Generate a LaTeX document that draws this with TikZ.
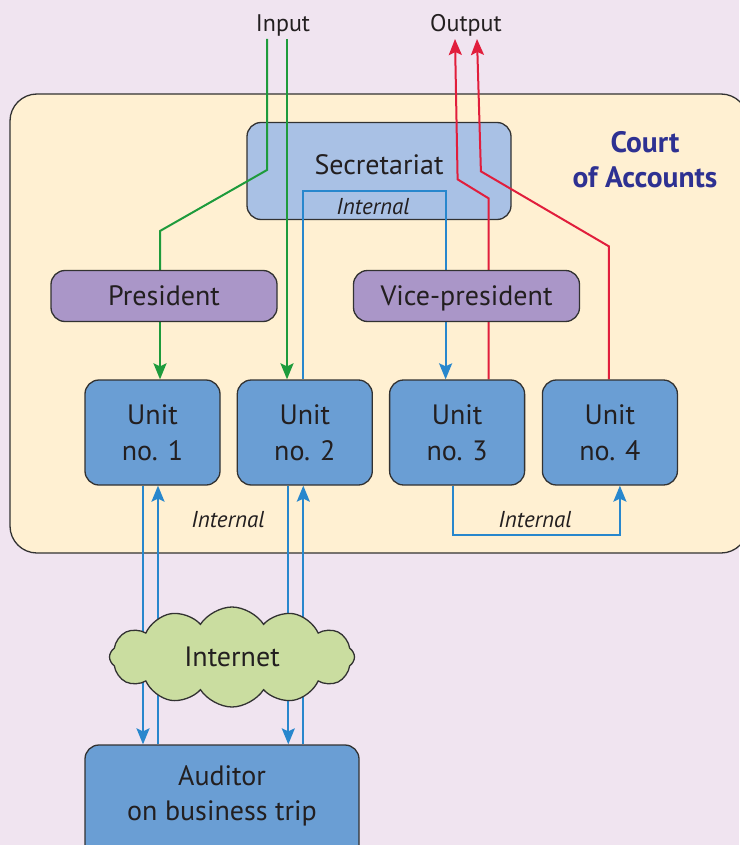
\documentclass[tikz,border=0pt]{standalone}
\usepackage{fontspec}
\setmainfont{PT Sans}
\usepackage{tikz}
\usepackage{xcolor}
\usetikzlibrary{positioning, arrows.meta, shapes.symbols}
\definecolor{cabg}{RGB}{240, 228, 240}
\definecolor{cacourt}{RGB}{255, 240, 210}
\definecolor{casec}{RGB}{169, 193, 229}
\definecolor{capres}{RGB}{170, 150, 200}
\definecolor{caunit}{RGB}{106, 158, 212}
\definecolor{canet}{RGB}{202, 221, 160}
\definecolor{cagreen}{RGB}{30, 155, 60}
\definecolor{cared}{RGB}{225, 30, 60}
\definecolor{cablue}{RGB}{40, 135, 205}
\definecolor{canavy}{RGB}{46, 49, 146}
\definecolor{caedge}{RGB}{50, 50, 50}
\definecolor{catext}{RGB}{35, 31, 32}
\pgfdeclarelayer{back}
\pgfdeclarelayer{wires}
\pgfsetlayers{back,wires,main}
\tikzset{
    box/.style={draw=caedge, line width=1.3pt, rounded corners=14pt, inner sep=0pt, text=catext, align=center, font=\fontsize{28}{36}\selectfont},
    secbox/.style={box, fill=casec, minimum width=264pt, minimum height=97pt},
    chiefbox/.style={box, fill=capres, minimum width=226pt, minimum height=51pt, text depth=0pt},
    unitbox/.style={box, fill=caunit, minimum width=135pt, minimum height=105pt},
    netcloud/.style={cloud, cloud puffs=12, cloud puff arc=115, aspect=2.5, draw=caedge, line width=1.3pt, fill=canet, minimum width=245pt, minimum height=100pt, inner sep=0pt, text=catext, font=\fontsize{28}{30}\selectfont},
    iolabel/.style={text=catext, inner sep=2pt, anchor=base, font=\fontsize{24}{28}\selectfont},
    inlabel/.style={text=catext, inner sep=0pt, font=\fontsize{23}{26}\selectfont\itshape},
    wire/.style={line width=2pt},
    greenwire/.style={wire, draw=cagreen},
    redwire/.style={wire, draw=cared},
    bluewire/.style={wire, draw=cablue},
    arr/.style={-{Stealth[length=16pt, width=13pt, inset=3pt]}}
}
\begin{document}
\begin{tikzpicture}[x=1pt, y=-1pt]
    \useasboundingbox (0,0) rectangle (739,845);

    \node[iolabel] (in) at (283,32) {Input};
    \node[iolabel] (out) at (466,32) {Output};

    \begin{pgfonlayer}{back}
        \fill[cabg] (0,0) rectangle (739,845);
        \node[draw=caedge, line width=1.3pt, fill=cacourt, rounded corners=27pt, minimum width=738pt, minimum height=459pt] (court) at (379,323.5) {};
        \node[secbox] (sec) at (379,171) {};
    \end{pgfonlayer}
    \node[anchor=base, inner sep=0pt, text=catext, font=\fontsize{28}{30}\selectfont] (sectext) at (379,175) {Secretariat};
    \node[inlabel] (secint) at (373,207) {Internal};
    \node[text=canavy, align=center, inner sep=0pt, font=\fontsize{29.5}{35}\selectfont\bfseries] (courttext) at (645,160) {Court\\of Accounts};

    \node[chiefbox] (pres) at (164,296) {President};
    \node[chiefbox] (vice) at (466.5,296) {Vice-president};

    \node[unitbox] (unit1) at (152.5,432.5) {Unit\\no. 1};
    \node[unitbox, right=16pt of unit1] (unit2) {Unit\\no. 2};
    \node[unitbox, right=16pt of unit2] (unit3) {Unit\\no. 3};
    \node[unitbox, right=16.5pt of unit3] (unit4) {Unit\\no. 4};

    \node[inlabel] (lowint1) at (228,520) {Internal};
    \node[inlabel] (lowint2) at (535,520) {Internal};

    \node[netcloud] (net) at (232,657) {Internet};
    \node[box, fill=caunit, minimum width=274pt, minimum height=130pt] (aud) at (222,810) {};
    \node[text=catext, align=center, inner sep=0pt, font=\fontsize{28}{35}\selectfont] (audtext) at (222,796) {Auditor\\on business trip};

    \begin{pgfonlayer}{wires}
        \draw[greenwire] ([xshift=-16pt]in.south) -- ++(0,131) -- ++(-107,61) -- ([xshift=-4pt]pres.north);
        \draw[greenwire, arr] ([xshift=-4pt]pres.south) -- ([xshift=-4pt]pres.south |- unit1.north);
        \draw[greenwire, arr] ([xshift=4pt]in.south) -- ([xshift=4pt]in.south |- unit2.north);
        \draw[redwire, arr] ([xshift=31.5pt]unit3.north) -- ++(0,-181) -- ++(-31,-19) -- ([xshift=-11pt]out.south);
        \draw[redwire, arr] ([xshift=-1pt]unit4.north) -- ++(0,-133) -- ++(-128,-75) -- ([xshift=11pt]out.south);
        \draw[bluewire, arr] ([xshift=-1.5pt]unit2.north) -- ++(0,-188) -| ([xshift=-11.5pt]unit3.north);
        \draw[bluewire, arr] ([xshift=-4.5pt]unit3.south) -- ++(0,49) -| ([xshift=10pt]unit4.south);
        \draw[bluewire, arr] ([xshift=-9.5pt]unit1.south) -- ([xshift=-9.5pt]unit1.south |- aud.north);
        \draw[bluewire, arr] ([xshift=5.5pt]unit1.south |- aud.north) -- ([xshift=5.5pt]unit1.south);
        \draw[bluewire, arr] ([xshift=-16.5pt]unit2.south) -- ([xshift=-16.5pt]unit2.south |- aud.north);
        \draw[bluewire, arr] ([xshift=-1.5pt]unit2.south |- aud.north) -- ([xshift=-1.5pt]unit2.south);
    \end{pgfonlayer}
\end{tikzpicture}
\end{document}
